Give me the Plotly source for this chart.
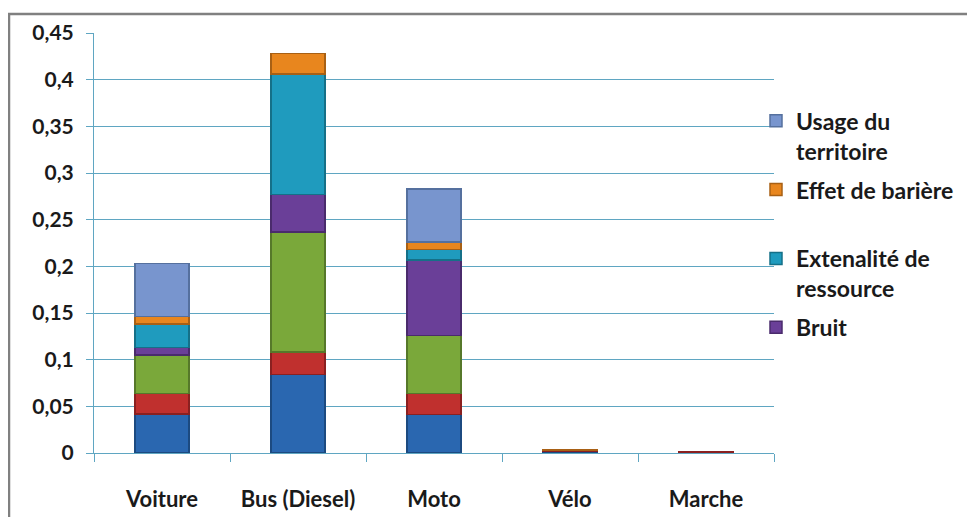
import plotly.graph_objects as go

# Catégories et valeurs (lecture du graphique), None = pas de segment
modes = ["Voiture", "Bus (Diesel)", "Moto", "Vélo", "Marche"]

accidents = [0.042, 0.084, 0.041, 0.002, None]
pollution = [0.022, 0.024, 0.023, 0.001, 0.0015]
climat = [0.041, 0.129, 0.062, None, None]
bruit = [0.008, 0.040, 0.081, None, None]
ressource = [0.025, 0.129, 0.011, None, None]
bariere = [0.008, 0.022, 0.008, 0.001, None]
territoire = [0.057, None, 0.057, None, None]

y_ticks = [0, 0.05, 0.1, 0.15, 0.2, 0.25, 0.3, 0.35, 0.4, 0.45]
y_tick_labels = ["0", "0,05", "0,1", "0,15", "0,2", "0,25", "0,3", "0,35", "0,4", "0,45"]

FONT = "Lato"
GRID = "#5fa6c2"

series = [
    ("Accidents", accidents, "#2a67b0", "#1c4a80", False),
    ("Pollution de l'air", pollution, "#c0302e", "#8a2020", False),
    ("Changement climatique", climat, "#7aa83a", "#56782a", False),
    ("Bruit", bruit, "#6a3f98", "#4a2b6c", True),
    ("Extenalité de<br>ressource", ressource, "#1f9bbe", "#157088", True),
    ("Effet de barière<br> ", bariere, "#e8861e", "#a86014", True),
    ("Usage du<br>territoire", territoire, "#7895ce", "#55709e", True),
]

fig = go.Figure()
for i, (name, vals, color, edge, show) in enumerate(series):
    fig.add_trace(go.Bar(
        x=modes, y=vals, name=name, showlegend=show,
        legendgroup=str(i), legendrank=100 - i,
        marker=dict(color=color, line=dict(color=edge, width=1.5)),
    ))

# la page ajoute ~8 px de marge autour de la figure
fig.update_layout(
    width=967, height=509,
    barmode="stack", bargap=0.6,
    paper_bgcolor="white", plot_bgcolor="white",
    margin=dict(l=86, r=201, t=25, b=64),
    separators=", ",
    font=dict(family=FONT, size=20, color="#1a1a1a"),
    legend=dict(
        x=(770 - 86 - 22) / 680, xanchor="left", y=0.842, yanchor="top",
        traceorder="grouped", valign="top",
        font=dict(family=FONT, size=23, color="#1a1a1a", weight="bold"),
        itemwidth=30, tracegroupgap=6,
        bgcolor="rgba(0,0,0,0)",
    ),
    shapes=[dict(
        type="rect", xref="paper", yref="paper",
        x0=(1 - 86) / 680, x1=(990 - 86) / 680,
        y0=(445 - 530) / 420, y1=(445 - 6) / 420,
        line=dict(color="#808080", width=2.5), layer="below",
    )],
)

fig.update_yaxes(
    range=[0, 0.45], tickvals=y_ticks, ticktext=y_tick_labels,
    showgrid=True, gridcolor=GRID, gridwidth=1,
    zeroline=False, showline=True, linecolor=GRID, linewidth=1,
    ticks="outside", ticklen=7, tickcolor=GRID,
    tickfont=dict(family=FONT, size=21, weight="bold"),
    ticklabelstandoff=8, automargin=False,
)
fig.update_xaxes(
    showline=True, linecolor=GRID, linewidth=1,
    ticks="outside", ticklen=8, tickcolor=GRID, tickson="boundaries",
    tickfont=dict(family=FONT, size=22, weight="bold"),
    ticklabelstandoff=27, automargin=False,
)

fig.write_html("out.html")
